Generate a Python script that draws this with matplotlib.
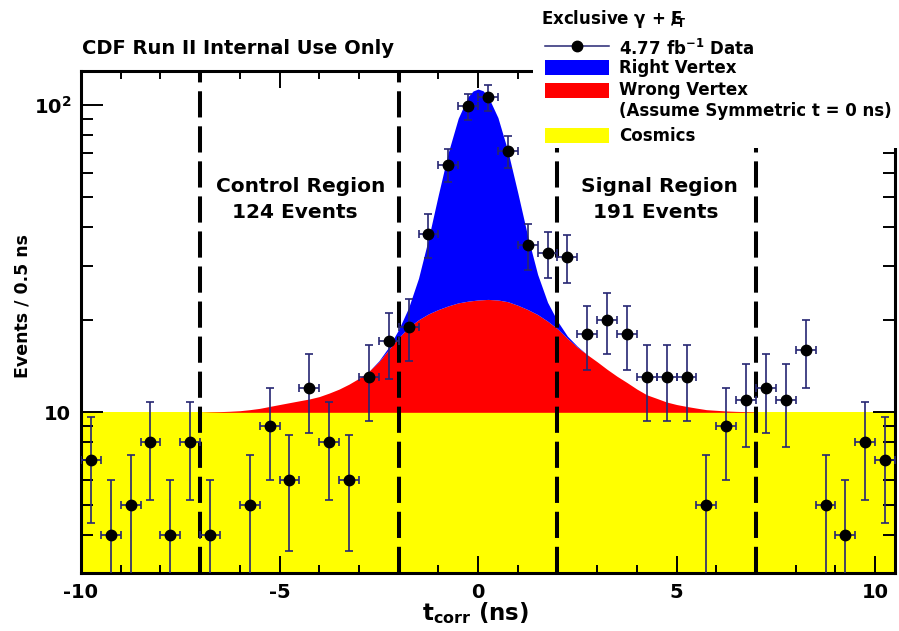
import matplotlib
matplotlib.use("Agg")
import matplotlib.pyplot as plt
import numpy as np
from matplotlib.lines import Line2D
from matplotlib.patches import Rectangle
from matplotlib.ticker import FixedLocator, MultipleLocator, NullFormatter

plt.rcParams["font.family"] = "DejaVu Sans"
plt.rcParams["font.weight"] = "bold"
plt.rcParams["mathtext.fontset"] = "dejavusans"
plt.rcParams["mathtext.default"] = "bf"
plt.rcParams["axes.unicode_minus"] = False

# --- data: events per 0.5 ns bin (t_corr in ns) ---
bin_centers = [-9.75, -9.25, -8.75, -8.25, -7.75, -7.25, -6.75, -6.25, -5.75, -5.25,
               -4.75, -4.25, -3.75, -3.25, -2.75, -2.25, -1.75, -1.25, -0.75, -0.25,
               0.25, 0.75, 1.25, 1.75, 2.25, 2.75, 3.25, 3.75, 4.25, 4.75,
               5.25, 5.75, 6.25, 6.75, 7.25, 7.75, 8.25, 8.75, 9.25, 9.75, 10.25]
events = [7, 4, 5, 8, 4, 8, 4, 0, 5, 9,
          6, 12, 8, 6, 13, 17, 19, 38, 64, 99,
          106, 71, 35, 33, 32, 18, 20, 18, 13, 13,
          13, 5, 9, 11, 12, 11, 16, 5, 4, 8, 7]
bin_width = 0.5

# --- background model curves ---
time_range = [-10, 10.5]
cosmics = [10, 10]
curve_t = [-7.0, -6.75, -6.5, -6.25, -6.0, -5.75, -5.5, -5.25, -5.0, -4.75,
           -4.5, -4.25, -4.0, -3.75, -3.5, -3.25, -3.0, -2.75, -2.5, -2.25,
           -2.0, -1.75, -1.5, -1.25, -1.0, -0.75, -0.5, -0.25, -0.125, 0.0,
           0.125, 0.25, 0.5, 0.75, 1.0, 1.25, 1.5, 1.75, 2.0, 2.25,
           2.5, 2.75, 3.0, 3.25, 3.5, 3.75, 4.0, 4.25, 4.5, 4.75,
           5.0, 5.25, 5.5, 5.75, 6.0, 6.25, 6.5, 6.75, 7.0]
wrong_vertex = [0.0, 0.03, 0.05, 0.08, 0.12, 0.2, 0.3, 0.45, 0.6, 0.75,
                0.9, 1.05, 1.25, 1.55, 1.9, 2.35, 2.9, 3.6, 4.6, 6.0,
                7.5, 8.9, 10.0, 10.9, 11.6, 12.2, 12.7, 13.0, 13.1, 13.2,
                13.25, 13.3, 13.2, 12.9, 12.3, 11.6, 10.8, 9.8, 8.7, 7.4,
                6.3, 5.4, 4.6, 3.8, 3.1, 2.5, 1.9, 1.4, 1.1, 0.8,
                0.6, 0.45, 0.32, 0.2, 0.15, 0.1, 0.07, 0.05, 0.03]
right_vertex = [0, 0, 0, 0, 0, 0, 0, 0, 0, 0,
                0, 0, 0, 0, 0, 0, 0, 0, 0.1, 0.3,
                1.1, 3.0, 7.3, 15.8, 29.5, 47.9, 67.8, 83.5, 88.0, 89.5,
                88.0, 83.5, 67.8, 47.9, 29.5, 15.8, 7.3, 3.0, 1.1, 0.3,
                0.1, 0, 0, 0, 0, 0, 0, 0, 0, 0,
                0, 0, 0, 0, 0, 0, 0, 0, 0]

region_edges = [-7, -2, 2, 7]

W, H = 899, 631


def fx(px):
    return px / W


def fy(py):
    return 1 - py / H


fig = plt.figure(figsize=(W / 100, H / 100), dpi=100)
ax = fig.add_axes([fx(81), fy(573), fx(895) - fx(81), fy(71) - fy(573)])
ax.set_yscale("log")

t = np.array(curve_t)
level = cosmics[0]
red_top = level + np.array(wrong_vertex)
blue_top = red_top + np.array(right_vertex)

ax.fill_between(time_range, 1e-3, cosmics, color="#ffff00", lw=0, zorder=1)
ax.fill_between(t, level, red_top, color="#ff0000", lw=0, zorder=1.1)
ax.fill_between(t, red_top, blue_top, color="#0000ff", lw=0, zorder=1.2)

for e in region_edges:
    ax.axvline(e, color="black", lw=2.9, ls=(0, (6.5, 2.2)), zorder=4)

x = np.array(bin_centers)
n = np.array(events, dtype=float)
m = n > 0
navy = "#262673"
ax.errorbar(x[m], n[m], xerr=bin_width / 2, yerr=np.sqrt(n[m]), fmt="o", ms=7.5,
            mfc="black", mec="black", ecolor=navy, elinewidth=1.2, capsize=2.8,
            capthick=1.2, zorder=5)

ax.set_xlim(time_range)
ax.set_ylim(3, 129)
ax.xaxis.set_major_locator(MultipleLocator(5))
ax.xaxis.set_minor_locator(MultipleLocator(1))
ax.set_yticks([10, 100])
ax.set_yticklabels(["10", r"$10^{2}$"])
ax.yaxis.set_minor_locator(FixedLocator([4, 5, 6, 7, 8, 9, 20, 30, 40, 50, 60, 70, 80, 90]))
ax.yaxis.set_minor_formatter(NullFormatter())
ax.tick_params(which="both", direction="in", top=True, right=True, width=1.4,
               labelsize=14, pad=7)
ax.tick_params(axis="x", which="major", length=12)
ax.tick_params(axis="x", which="minor", length=6)
ax.tick_params(axis="y", which="major", length=16)
ax.tick_params(axis="y", which="minor", length=8.5)
for s in ax.spines.values():
    s.set_linewidth(2.2)

# region labels
fig.text(fx(301), fy(186), "Control Region", ha="center", va="center", fontsize=14.5)
fig.text(fx(295), fy(212), "124 Events", ha="center", va="center", fontsize=14.5)
fig.text(fx(659), fy(186), "Signal Region", ha="center", va="center", fontsize=14.5)
fig.text(fx(656), fy(212), "191 Events", ha="center", va="center", fontsize=14.5)

fig.text(fx(82), fy(48), "CDF Run II Internal Use Only", ha="left", va="center", fontsize=14)
fig.text(fx(23), fy(306), "Events / 0.5 ns", rotation=90, ha="center", va="center",
         fontsize=12.5)
fig.text(fx(475), fy(613), r"$t_{corr}$ (ns)", ha="center", va="center", fontsize=16.5)

# legend block (opaque, covers the top-right corner of the frame)
fig.add_artist(Rectangle((fx(533), fy(148)), 1 - fx(533), 148 / H, transform=fig.transFigure,
                         facecolor="white", edgecolor="none", zorder=10))
fig.text(fx(541), fy(19), r"Exclusive $\gamma$ + $E\!\!\!\!/_{T}$", ha="left", va="center",
         fontsize=12, zorder=11)
fig.add_artist(Line2D([fx(545), fx(609)], [fy(46), fy(46)], color=navy, lw=1.1, zorder=11))
fig.add_artist(Line2D([fx(577)], [fy(46)], marker="o", ms=7.5, color="black", zorder=12))
swatches = [("#0000ff", 60), ("#ff0000", 83), ("#ffff00", 128)]
for c, top in swatches:
    fig.add_artist(Rectangle((fx(545), fy(top + 15)), fx(609) - fx(545), 15 / H,
                             transform=fig.transFigure, facecolor=c, edgecolor="none",
                             zorder=11))
legend_rows = [(r"4.77 fb$^{-1}$ Data", 49), ("Right Vertex", 68), ("Wrong Vertex", 90),
               ("(Assume Symmetric t = 0 ns)", 111), ("Cosmics", 136)]
for label, yy in legend_rows:
    fig.text(fx(619), fy(yy), label, ha="left", va="center", fontsize=12, zorder=11)

fig.savefig("out.png", dpi=100)
